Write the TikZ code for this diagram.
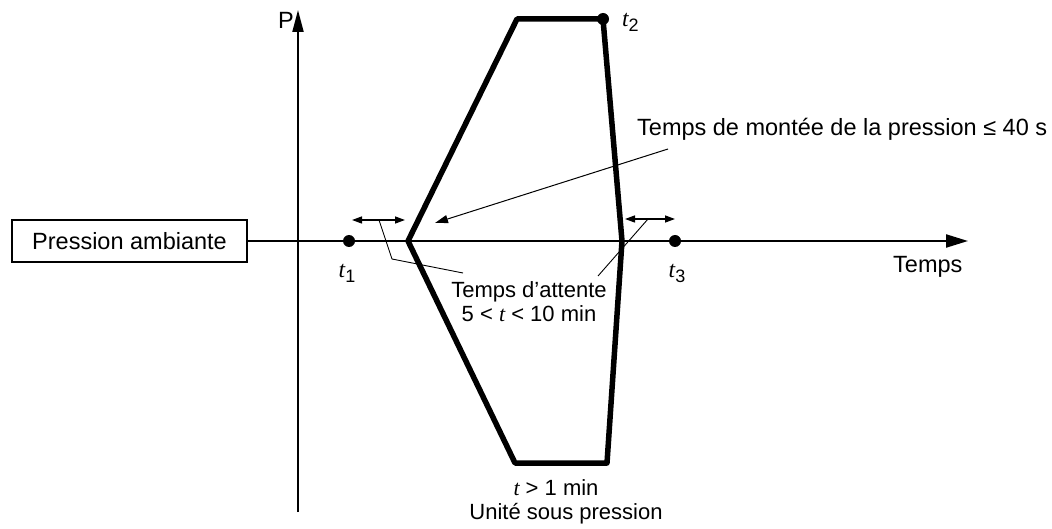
\documentclass[tikz,border=0pt]{standalone}
\usepackage{fontspec}
\setmainfont{Liberation Sans}
\newfontfamily\tfont{Liberation Serif}
\usetikzlibrary{arrows.meta}
\newcommand{\tvar}{{\tfont\itshape t}}
\newcommand{\tsub}[1]{\tvar\raisebox{-0.35ex}{\fontsize{18}{18}\selectfont #1}}
\begin{document}
\begin{tikzpicture}[x=1pt,y=-1pt,
  font=\fontsize{22}{26}\selectfont,
  big/.style={font=\fontsize{23.5}{28}\selectfont},
  axis/.style={line width=2.2pt},
  curve/.style={line width=5.5pt, line join=round},
  lead/.style={line width=0.9pt},
  dblarrow/.style={line width=1.3pt, {Triangle[length=10pt,width=7pt]}-{Triangle[length=10pt,width=7pt]}},
  dot/.style={circle, fill=black, inner sep=0pt, minimum size=12pt},
  lbl/.style={anchor=base, inner sep=0pt}]
\useasboundingbox (0,0) rectangle (1052,529);

% box
\node[draw, big, line width=1.3pt, minimum width=235pt, minimum height=42pt, inner sep=0pt] (box) at (129.5,241) {Pression ambiante};

% axes
\coordinate (tend) at (968,241);
\coordinate (pbot) at (298,512);
\coordinate (ptop) at (298,10);
\draw[axis, -{Triangle[length=22pt,width=13pt]}] (box.east) -- (tend);
\draw[line width=2pt, -{Triangle[length=22pt,width=11pt]}] (pbot) -- (ptop);
\node[lbl, big, anchor=base west] (plab) at (278,29) {P};
\node[lbl, big, anchor=base west] (tlab) at (893,273) {Temps};

% pressure curve
\coordinate (A) at (408,241);
\coordinate (B) at (517,19);
\coordinate (C) at (603,19);
\coordinate (D) at (622,241);
\coordinate (E) at (607,463);
\coordinate (F) at (515,463);
\draw[curve] (A) -- (B) -- (C) -- (D) -- (E) -- (F) -- cycle;

% points
\node[dot] (t1) at (349,241) {};
\node[dot] (t2) at (C) {};
\node[dot] (t3) at (675,241) {};
\node[lbl, big] (t1lab) at (347,278) {\tsub{1}};
\node[lbl, big, anchor=base west] (t2lab) at (622,27) {\tsub{2}};
\node[lbl, big] (t3lab) at (677,278) {\tsub{3}};

% waiting time arrows
\coordinate (la1) at (352,220);
\coordinate (la2) at (405,220);
\coordinate (ra1) at (625,219);
\coordinate (ra2) at (675,219);
\draw[dblarrow] (la1) -- (la2);
\draw[dblarrow] (ra1) -- (ra2);

\node[lbl] (att1) at (529,298) {Temps d’attente};
\node[lbl] (att2) at (529,322) {5 < \tvar{} < 10 min};

\coordinate (lm) at (379,220);
\coordinate (lk) at (392,259);
\coordinate (le) at (463,273);
\draw[lead] (lm) -- (lk) -- (le);
\coordinate (rm) at (648,219);
\coordinate (re) at (598,276);
\draw[lead] (rm) -- (re);

% rise time
\node[lbl, big, anchor=base west] (rise) at (637,136) {Temps de montée de la pression ≤ 40 s};
\coordinate (rs) at (668,149);
\coordinate (rt) at (435,223);
\draw[line width=1pt, -{Triangle[length=13pt,width=8pt]}] (rs) -- (rt);

% bottom labels
\node[lbl] (dur) at (556,495) {\tvar{} > 1 min};
\node[lbl] (unit) at (566,519) {Unité sous pression};
\end{tikzpicture}
\end{document}
